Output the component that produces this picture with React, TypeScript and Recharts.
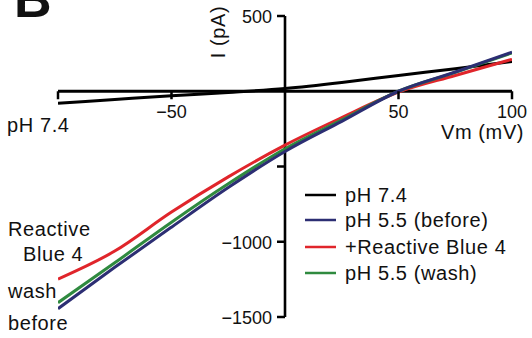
import { LineChart, Line, XAxis, YAxis, ReferenceLine, ReferenceDot } from "recharts";

const voltages = [-100, -75, -50, -25, 0, 25, 50, 75, 100];
const ph74 = [-80, -55, -30, -8, 18, 58, 105, 150, 198];
const ph55Before = [-1445, -1170, -903, -640, -400, -200, 0, 128, 260];
const reactiveBlue4 = [-1248, -1062, -803, -569, -358, -175, -5, 105, 212];
const ph55Wash = [-1405, -1140, -870, -615, -382, -190, 0, 125, 255];

const xTicks = [-100, -50, 50, 100];
const xTickLabels = ["", "\u221250", "50", "100"];
const yTicks = [500, -500, -1000, -1500];
const yTickLabels = ["500", "", "\u22121000", "\u22121500"];

const series = [
  { key: "ph74", name: "pH 7.4", color: "#000000" },
  { key: "before", name: "pH 5.5 (before)", color: "#2c2e73" },
  { key: "rb4", name: "+Reactive Blue 4", color: "#e0252b" },
  { key: "wash", name: "pH 5.5 (wash)", color: "#2f8a3f" },
];
// draw order: black under, then red, green, blue on top
const drawOrder = ["ph74", "rb4", "wash", "before"];

const data = voltages.map((v, i) => ({
  v,
  ph74: ph74[i],
  before: ph55Before[i],
  rb4: reactiveBlue4[i],
  wash: ph55Wash[i],
}));

const FONT = "'Liberation Sans', Arial, sans-serif";

function XTick({ cx, cy, label }: any) {
  return (
    <g>
      <line x1={cx} y1={cy} x2={cx} y2={cy + 8} stroke="#000" strokeWidth={2.5} />
      {label ? (
        <text x={cx} y={cy + 27} textAnchor="middle" fontSize={18} fontFamily={FONT} fill="#111">
          {label}
        </text>
      ) : null}
    </g>
  );
}

function YTick({ cx, cy, label }: any) {
  return (
    <g>
      <line x1={cx} y1={cy} x2={cx - 8} y2={cy} stroke="#000" strokeWidth={2.5} />
      {label ? (
        <text x={cx - 13} y={cy + 7} textAnchor="end" fontSize={18} fontFamily={FONT} fill="#111">
          {label}
        </text>
      ) : null}
    </g>
  );
}

export default function App() {
  const legendRows = [195, 220, 247, 273];
  return (
    <div style={{ position: "absolute", left: 0, top: 0, width: 532, height: 338, background: "#fff" }}>
      <LineChart
        width={532}
        height={338}
        data={data}
        margin={{ top: 16, right: 20, left: 58, bottom: 21 }}
      >
        <XAxis dataKey="v" type="number" domain={[-100, 100]} hide allowDataOverflow />
        <YAxis type="number" domain={[-1500, 500]} hide allowDataOverflow />
        <ReferenceLine y={0} stroke="#000" strokeWidth={2.8} />
        <ReferenceLine x={0} stroke="#000" strokeWidth={2.6} />
        {xTicks.map((t, i) => (
          <ReferenceDot
            key={"x" + t}
            x={t}
            y={0}
            r={0}
            shape={(p: any) => <XTick cx={p.cx} cy={p.cy} label={xTickLabels[i]} />}
          />
        ))}
        {yTicks.map((t, i) => (
          <ReferenceDot
            key={"y" + t}
            x={0}
            y={t}
            r={0}
            shape={(p: any) => <YTick cx={p.cx} cy={p.cy} label={yTickLabels[i]} />}
          />
        ))}
        {drawOrder.map((k) => {
          const s = series.find((d) => d.key === k)!;
          return (
            <Line
              key={k}
              dataKey={k}
              name={s.name}
              type="monotone"
              stroke={s.color}
              strokeWidth={3}
              dot={false}
              isAnimationActive={false}
            />
          );
        })}
      </LineChart>
      <svg
        width={532}
        height={338}
        style={{ position: "absolute", left: 0, top: 0, pointerEvents: "none" }}
        fontFamily={FONT}
        fill="#111"
        letterSpacing={0.6}
      >
        <text x={14} y={17} fontSize={52} fontWeight="bold" letterSpacing={0}>B</text>
        <text x={441} y={139} fontSize={20}>Vm (mV)</text>
        <text transform="translate(225,32) rotate(-90)" textAnchor="middle" fontSize={20}>I (pA)</text>
        <text x={7} y={132} fontSize={20}>pH 7.4</text>
        <text x={8} y={236} fontSize={20}>Reactive</text>
        <text x={23} y={261} fontSize={20}>Blue 4</text>
        <text x={8} y={298} fontSize={20}>wash</text>
        <text x={8} y={330} fontSize={20}>before</text>
        {series.map((s, i) => (
          <g key={s.key}>
            <line x1={305} x2={336} y1={legendRows[i]} y2={legendRows[i]} stroke={s.color} strokeWidth={2.5} />
            <text x={345} y={legendRows[i] + 7} fontSize={20}>{s.name}</text>
          </g>
        ))}
      </svg>
    </div>
  );
}
